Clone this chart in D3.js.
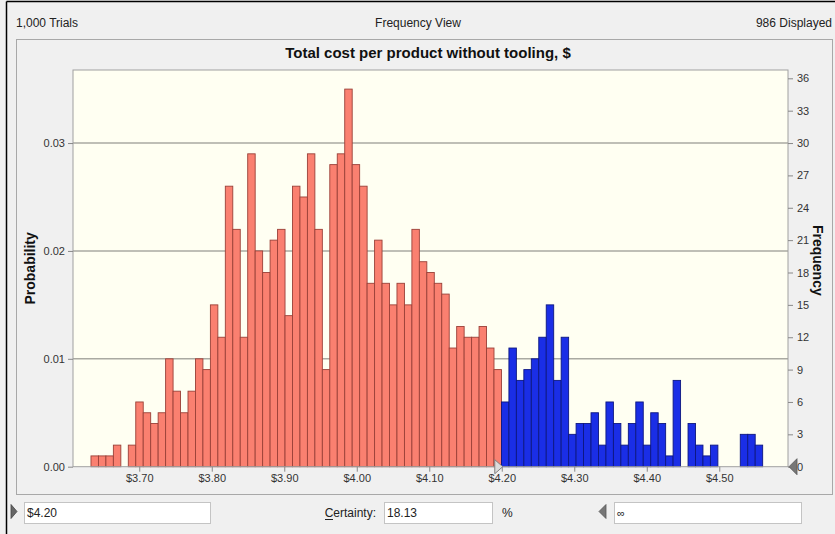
<!DOCTYPE html>
<html>
<head>
<meta charset="utf-8">
<script src="https://cdn.jsdelivr.net/npm/d3@7"></script>
<style>
  html, body { margin: 0; padding: 0; background: #f0f0f0; }
  svg { display: block; }
  text { font-family: "Liberation Sans", Arial, sans-serif; }
</style>
</head>
<body>
<div id="chart"></div>
<script>
// ---------------- DATA ----------------
const chartTitle = "Total cost per product without tooling, $";
const trialsLabel = "1,000 Trials";
const viewLabel = "Frequency View";
const displayedLabel = "986 Displayed";
const trials = 1000;
const binStart = 3.6334;      // $ value of first bin's left edge
const binWidth = 0.010294;    // $ width of each bin
const counts = [
  1, 1, 1, 2, 0, 2, 6, 5, 4, 5,
  10, 7, 5, 7, 10, 9, 15, 12, 26, 22,
  12, 29, 20, 18, 21, 22, 14, 26, 25, 29,
  22, 9, 28, 29, 35, 28, 26, 17, 21, 17,
  15, 17, 15, 22, 19, 18, 17, 16, 11, 13,
  12, 12, 13, 11, 9, 6, 11, 8, 9, 10,
  12, 15, 8, 12, 3, 4, 4, 5, 2, 6,
  4, 2, 4, 6, 2, 5, 4, 1, 8, 0,
  4, 2, 1, 2, 0, 0, 0, 3, 3, 2
];
const xDomain = [3.6086, 4.5948];
const countMax = 36.77;
const xTicks = [3.70, 3.80, 3.90, 4.00, 4.10, 4.20, 4.30, 4.40, 4.50];
const probTicks = [0.00, 0.01, 0.02, 0.03];
const probGrid = [0.01, 0.02, 0.03];
const freqTicks = [0, 3, 6, 9, 12, 15, 18, 21, 24, 27, 30, 33, 36];
const lowerBound = 4.20;
const lowerLabel = "$4.20";
const upperLabel = "\u221E";
const certaintyLabel = "Certainty:";
const certaintyValue = "18.13";

// ---------------- LAYOUT ----------------
const W = 835, H = 534;
const plot = { left: 73, right: 788, top: 70, bottom: 466.7 };

const svg = d3.select("#chart").append("svg")
  .attr("width", W).attr("height", H);

svg.append("rect").attr("width", W).attr("height", H).attr("fill", "#f0f0f0");

// outer window border
svg.append("line").attr("x1", 6.5).attr("x2", W).attr("y1", 1.5).attr("y2", 1.5)
  .attr("stroke", "#000").attr("stroke-width", 1.5);
svg.append("line").attr("x1", 6.5).attr("x2", 6.5).attr("y1", 1.5).attr("y2", H)
  .attr("stroke", "#000").attr("stroke-width", 1.5);

// header texts
svg.append("text").attr("x", 16).attr("y", 27).attr("font-size", 12).attr("fill", "#222").text(trialsLabel);
svg.append("text").attr("x", 418).attr("y", 27).attr("font-size", 12).attr("fill", "#222")
  .attr("text-anchor", "middle").text(viewLabel);
svg.append("text").attr("x", 832).attr("y", 27).attr("font-size", 12).attr("fill", "#222")
  .attr("text-anchor", "end").text(displayedLabel);

// inner panel
svg.append("rect").attr("x", 16.5).attr("y", 39.5).attr("width", 816).attr("height", 455)
  .attr("fill", "#f0f0f0").attr("stroke", "#a8a8a8").attr("stroke-width", 1);

// title
svg.append("text").attr("x", 428).attr("y", 58).attr("font-size", 15).attr("font-weight", "bold")
  .attr("fill", "#111").attr("text-anchor", "middle").text(chartTitle);

// scales
const x = d3.scaleLinear().domain(xDomain).range([plot.left, plot.right]);
const yCount = d3.scaleLinear().domain([0, countMax]).range([plot.bottom, plot.top]);
const yProb = d3.scaleLinear().domain([0, countMax / trials]).range([plot.bottom, plot.top]);

// plot background
svg.append("rect").attr("x", plot.left).attr("y", plot.top)
  .attr("width", plot.right - plot.left).attr("height", plot.bottom - plot.top)
  .attr("fill", "#fffff2");

// gridlines
svg.append("g").selectAll("line").data(probGrid).join("line")
  .attr("x1", plot.left).attr("x2", plot.right)
  .attr("y1", d => yProb(d)).attr("y2", d => yProb(d))
  .attr("stroke", "#aaaaa2").attr("stroke-width", 1.4);

// bars
const bins = counts.map((c, i) => ({ x0: binStart + i * binWidth, x1: binStart + (i + 1) * binWidth, count: c }));
svg.append("g").selectAll("rect").data(bins.filter(b => b.count > 0)).join("rect")
  .attr("x", d => x(d.x0))
  .attr("width", d => x(d.x1) - x(d.x0))
  .attr("y", d => yCount(d.count))
  .attr("height", d => yCount(0) - yCount(d.count))
  .attr("fill", d => (d.x0 + d.x1) / 2 > lowerBound ? "#1a2ee6" : "#fa8070")
  .attr("stroke", d => (d.x0 + d.x1) / 2 > lowerBound ? "#0d1780" : "#9a4038")
  .attr("stroke-width", 0.9);

// plot border
svg.append("rect").attr("x", plot.left).attr("y", plot.top)
  .attr("width", plot.right - plot.left).attr("height", plot.bottom - plot.top)
  .attr("fill", "none").attr("stroke", "#a0a0a0").attr("stroke-width", 1);

// left axis (probability)
const leftAxis = d3.axisLeft(yProb).tickValues(probTicks).tickFormat(d3.format(".2f")).tickSize(5).tickPadding(3);
const gL = svg.append("g").attr("transform", `translate(${plot.left},0)`).call(leftAxis);
gL.select(".domain").remove();
gL.selectAll("line").attr("stroke", "#888");
gL.selectAll("text").attr("font-size", 11).attr("fill", "#333").attr("font-family", "Liberation Sans, Arial, sans-serif");

// right axis (frequency)
const rightAxis = d3.axisRight(yCount).tickValues(freqTicks).tickSize(5).tickPadding(4);
const gR = svg.append("g").attr("transform", `translate(${plot.right},0)`).call(rightAxis);
gR.select(".domain").remove();
gR.selectAll("line").attr("stroke", "#888");
gR.selectAll("text").attr("font-size", 11).attr("fill", "#333").attr("font-family", "Liberation Sans, Arial, sans-serif");

// bottom axis
const bottomAxis = d3.axisBottom(x).tickValues(xTicks).tickFormat(d => "$" + d3.format(".2f")(d)).tickSize(5).tickPadding(3);
const gB = svg.append("g").attr("transform", `translate(0,${plot.bottom})`).call(bottomAxis);
gB.select(".domain").remove();
gB.selectAll("line").attr("stroke", "#888");
gB.selectAll("text").attr("font-size", 11).attr("fill", "#333").attr("font-family", "Liberation Sans, Arial, sans-serif");

// axis titles
svg.append("text").attr("transform", `translate(35,${(plot.top + plot.bottom) / 2}) rotate(-90)`)
  .attr("text-anchor", "middle").attr("font-size", 14).attr("font-weight", "bold").attr("fill", "#111")
  .text("Probability");
svg.append("text").attr("transform", `translate(813,${(plot.top + plot.bottom) / 2 - 8}) rotate(90)`)
  .attr("text-anchor", "middle").attr("font-size", 14).attr("font-weight", "bold").attr("fill", "#111")
  .text("Frequency");

// grabbers on the axes
const gx = x(lowerBound), gy = yCount(0);
svg.append("path")
  .attr("d", `M${gx - 7},${gy - 7} L${gx + 1},${gy} L${gx - 7},${gy + 7} Z`)
  .attr("fill", "#dcdcdc").attr("stroke", "#808080").attr("stroke-width", 1);
svg.append("path")
  .attr("d", `M${plot.right + 9},${gy - 8} L${plot.right + 1},${gy} L${plot.right + 9},${gy + 8} Z`)
  .attr("fill", "#777").attr("stroke", "#555").attr("stroke-width", 0.8);

// footer controls
const fy = 502.5, fh = 21;
svg.append("path").attr("d", `M11,504.5 L17,511.5 L11,518.5 Z`).attr("fill", "#666").attr("stroke", "#444").attr("stroke-width", 0.8);
svg.append("rect").attr("x", 24.5).attr("y", fy).attr("width", 186).attr("height", fh)
  .attr("fill", "#fff").attr("stroke", "#c4c4c4");
svg.append("text").attr("x", 27).attr("y", 517).attr("font-size", 12).attr("fill", "#222").text(lowerLabel);

svg.append("text").attr("x", 376).attr("y", 517).attr("font-size", 12).attr("fill", "#222")
  .attr("text-anchor", "end").text(certaintyLabel);
svg.append("line").attr("x1", 325).attr("x2", 333).attr("y1", 519.5).attr("y2", 519.5).attr("stroke", "#222").attr("stroke-width", 1);
svg.append("rect").attr("x", 384.5).attr("y", fy).attr("width", 108).attr("height", fh)
  .attr("fill", "#fff").attr("stroke", "#c4c4c4");
svg.append("text").attr("x", 387).attr("y", 517).attr("font-size", 12).attr("fill", "#222").text(certaintyValue);
svg.append("text").attr("x", 502).attr("y", 517).attr("font-size", 12).attr("fill", "#222").text("%");

svg.append("path").attr("d", `M606,504.5 L599,511.5 L606,518.5 Z`).attr("fill", "#777").attr("stroke", "#555").attr("stroke-width", 0.8);
svg.append("rect").attr("x", 614.5).attr("y", fy).attr("width", 187).attr("height", fh)
  .attr("fill", "#fff").attr("stroke", "#c4c4c4");
svg.append("text").attr("x", 617).attr("y", 517).attr("font-size", 11).attr("fill", "#222").text(upperLabel);
</script>
</body>
</html>
